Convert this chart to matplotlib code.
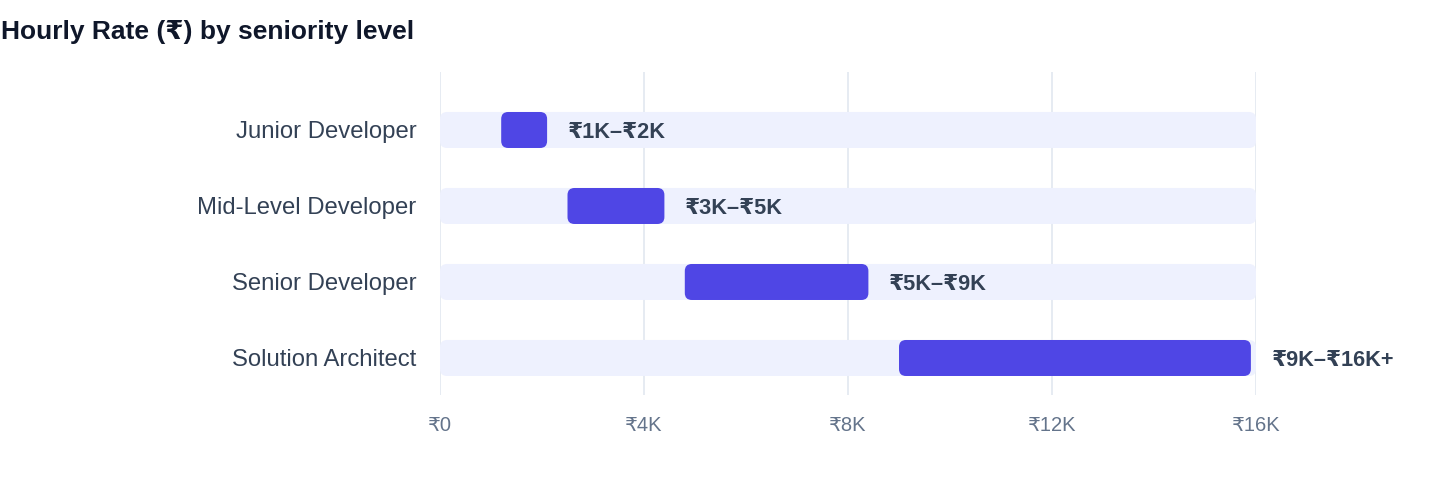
import matplotlib
matplotlib.use("Agg")
import matplotlib.pyplot as plt
from matplotlib.patches import FancyBboxPatch

plt.rcParams['font.family'] = ['Liberation Sans', 'DejaVu Sans']

# data
roles = ["Junior Developer", "Mid-Level Developer", "Senior Developer", "Solution Architect"]
low = [1200, 2500, 4800, 9000]
high = [2100, 4400, 8400, 15900]
range_labels = ["₹1K–₹2K", "₹3K–₹5K", "₹5K–₹9K", "₹9K–₹16K+"]
ticks = [0, 4000, 8000, 12000, 16000]
tick_labels = ["₹0", "₹4K", "₹8K", "₹12K", "₹16K"]
x_max = 16000

W, H = 1440, 484
fig = plt.figure(figsize=(W / 100, H / 100), dpi=100)
ax_l, ax_r, ax_t, ax_b = 440, 1256, 72, 395
ax = fig.add_axes([ax_l / W, 1 - ax_b / H, (ax_r - ax_l) / W, (ax_b - ax_t) / H])

ax.set_xlim(0, x_max)
ax.set_ylim(3 + 0.487, -0.763)

# px -> data conversion for rounded corners
xpp = x_max / (ax_r - ax_l)
ypp = (3 + 0.487 + 0.763) / (ax_b - ax_t)
radius = 7 * xpp
aspect = ypp / xpp
bar_h = 36 * ypp

for x in ticks:
    ax.axvline(x, color="#E2E8F0", lw=1.2, zorder=0)

for i, role in enumerate(roles):
    bg = FancyBboxPatch((0, i - bar_h / 2), x_max, bar_h,
                        boxstyle=f"round,pad=0,rounding_size={radius}",
                        mutation_aspect=aspect, fc="#EEF1FE", ec="none", zorder=1)
    ax.add_patch(bg)
    fg = FancyBboxPatch((low[i], i - bar_h / 2), high[i] - low[i], bar_h,
                        boxstyle=f"round,pad=0,rounding_size={radius}",
                        mutation_aspect=aspect, fc="#4F46E5", ec="none", zorder=2)
    ax.add_patch(fg)
    ax.annotate(range_labels[i], (high[i], i), xytext=(15, -1.5), textcoords="offset points",
                va="center", ha="left", fontsize=15.7, fontweight="bold",
                color="#334155", annotation_clip=False)

ax.set_yticks(range(len(roles)))
ax.set_yticklabels(roles, fontsize=17.2, color="#334155")
ax.set_xticks(ticks)
ax.set_xticklabels(tick_labels, fontsize=14.5, color="#64748B")
ax.tick_params(axis="both", length=0)
ax.tick_params(axis="y", pad=17)
ax.tick_params(axis="x", pad=15)
for s in ax.spines.values():
    s.set_visible(False)

fig.text(1 / W, 1 - 32 / H, "Hourly Rate (₹) by seniority level", fontsize=19,
         fontweight="bold", color="#0F172A", va="center", ha="left")

fig.savefig("out.png", dpi=100)
